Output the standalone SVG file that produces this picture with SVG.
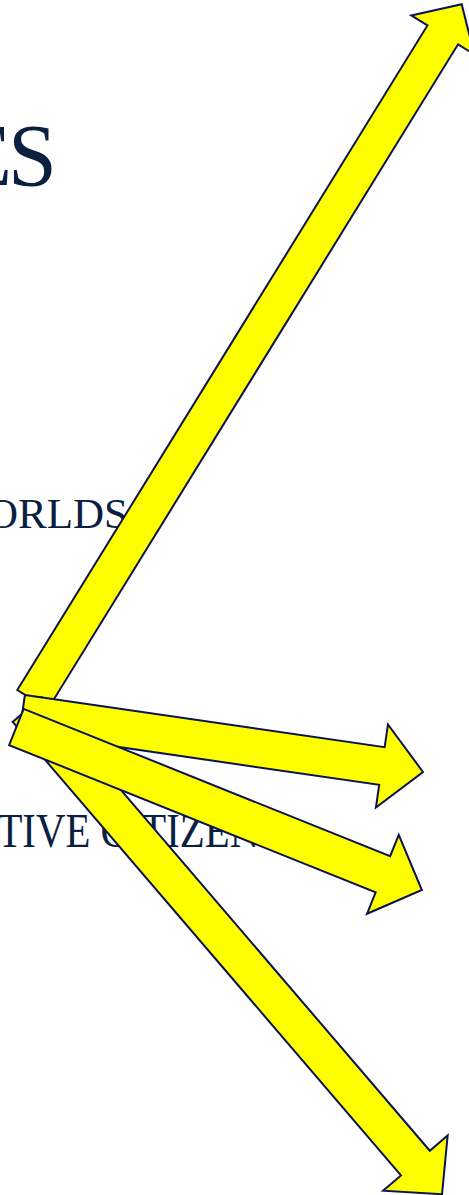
<svg xmlns="http://www.w3.org/2000/svg" width="469" height="1195" viewBox="0 0 469 1195">
  <style>
    .t { font-family: "Liberation Serif", "Times New Roman", serif; fill: #0b2040; }
    .arr { fill: #ffff00; stroke: #0a1450; stroke-width: 2; stroke-linejoin: miter; }
  </style>
  <rect width="469" height="1195" fill="#ffffff"/>
  <g id="text-es"><text class="t" x="57" y="185" font-size="88" text-anchor="end">E<tspan dx="-4">S</tspan></text></g>
  <g id="text-worlds"><text class="t" x="128" y="528" font-size="43" text-anchor="end">ORLDS</text></g>
  <g id="text-citizens"><text class="t" x="-3" y="847" font-size="48" transform="scale(0.85 1)">TIVE CITIZENS</text></g>
  <g id="arrows">
    <g id="arrow-up"><polygon class="arr" transform="translate(32.6 699.5) rotate(-58.32)" points="0,-18 781,-18 781,-37 817,0 781,37 781,18 0,18"/></g>
    <g id="arrow-down"><polygon class="arr" transform="translate(27.1 709.6) rotate(49.43)" points="0,-19 597,-19 597,-42.5 638,0 597,42.5 597,19 0,19"/></g>
    <g id="arrow-right"><polygon class="arr" transform="translate(22.2 713.8) rotate(8.26)" points="0,-19 363.5,-19 363.5,-42 405,0 363.5,42 363.5,19 0,19"/></g>
    <g id="arrow-right-down"><polygon class="arr" transform="translate(16.4 727) rotate(21.9)" points="0,-19.5 395,-19.5 395,-42.5 437,0 395,42.5 395,19.5 0,19.5"/></g>
  </g>
</svg>
